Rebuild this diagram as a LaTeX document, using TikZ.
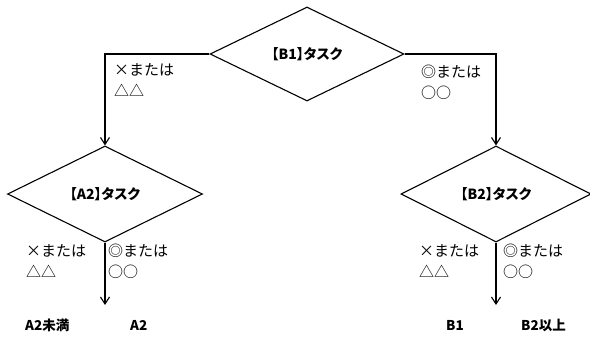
\documentclass[tikz,border=0pt]{standalone}
\usepackage{fontspec}
\newfontfamily\jp{Noto Sans CJK JP}
\newfontfamily\jpp[RawFeature=+palt]{Noto Sans CJK JP}
\usetikzlibrary{shapes.geometric,arrows.meta}
\tikzset{
  dia/.style={draw, line width=1.1pt, diamond, aspect=2.05, inner sep=0pt, font=\jpp\bfseries\fontsize{14}{16}\selectfont},
  conn/.style={draw, line width=1.2pt, -{Straight Barb[length=7pt,width=9pt,line width=1.1pt]}},
  lbl/.style={font=\jp\fontsize{15}{21}\selectfont, align=left, anchor=north west, inner sep=0pt},
  res/.style={font=\jp\bfseries\fontsize{13.5}{15}\selectfont, inner sep=0pt, anchor=west}
}
\begin{document}
\begin{tikzpicture}[x=1pt,y=-1pt]
\useasboundingbox (0,0) rectangle (590,338);
\node[dia, minimum width=194pt, minimum height=94pt] (b1) at (307,54) {【B1】タスク};
\node[dia, minimum width=195pt, minimum height=96pt] (a2) at (105,194) {【A2】タスク};
\node[dia, minimum width=190pt, minimum height=96pt] (b2) at (496,194) {【B2】タスク};
\coordinate (ea) at (105,305);
\coordinate (eb) at (496,305);
\draw[conn] (b1.west) -| (a2.north);
\draw[conn] (b1.east) -| (b2.north);
\draw[conn] (a2.south) -- (ea);
\draw[conn] (b2.south) -- (eb);
\node[lbl] (l1) at (114,63) {×または\\△△};
\node[lbl] (l2) at (421,65) {◎または\\○○};
\node[lbl] (l3) at (26,244) {×または\\△△};
\node[lbl] (l4) at (108,244) {◎または\\○○};
\node[lbl] (l5) at (419,244) {×または\\△△};
\node[lbl] (l6) at (503,244) {◎または\\○○};
\node[res] (r1) at (25,325) {A2未満};
\node[res] (r2) at (130,325) {A2};
\node[res] (r3) at (446,325) {B1};
\node[res] (r4) at (521,325) {B2以上};
\end{tikzpicture}
\end{document}
